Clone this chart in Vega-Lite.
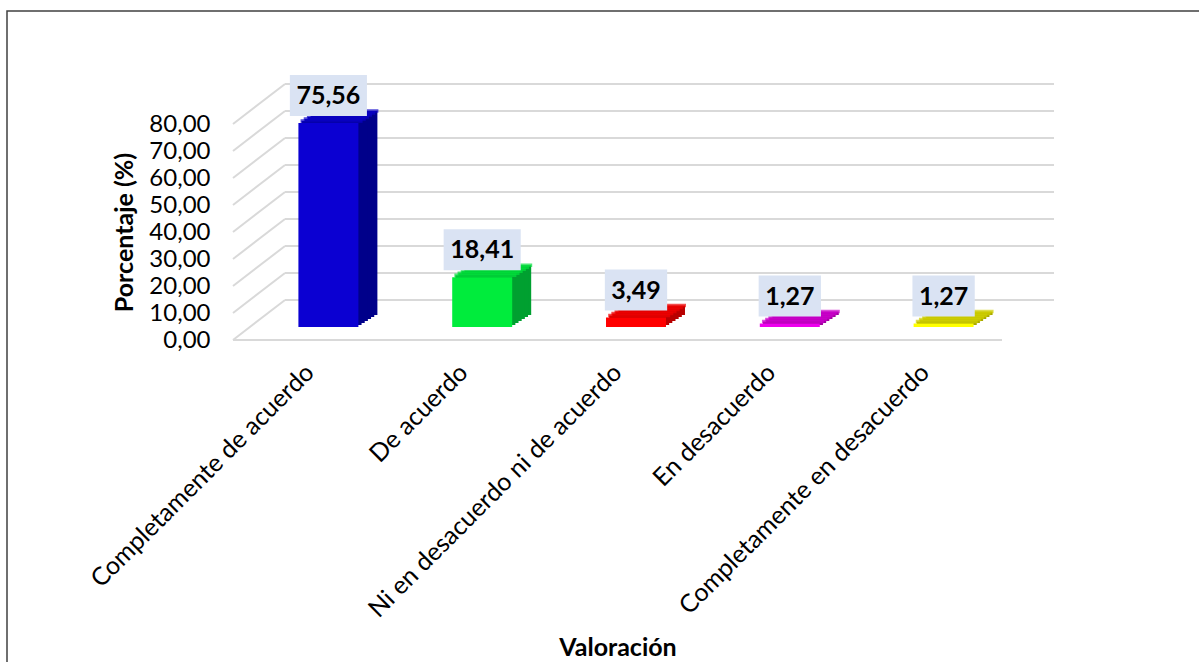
{
  "$schema": "https://vega.github.io/schema/vega-lite/v6.json",
  "width": 1195,
  "height": 655,
  "autosize": {"type": "none"},
  "padding": {"left": 7, "top": 11, "right": 0, "bottom": 0},
  "background": "white",
  "config": {
    "locale": {"number": {"decimal": ",", "thousands": ".", "grouping": [3], "currency": ["", " €"]}},
    "view": {"stroke": "#404040", "strokeWidth": 1.5},
    "font": "Lato"
  },
  "datasets": {
    "valoracion": [
      {"Valoracion": "Completamente de acuerdo", "Porcentaje": 75.56},
      {"Valoracion": "De acuerdo", "Porcentaje": 18.41},
      {"Valoracion": "Ni en desacuerdo ni de acuerdo", "Porcentaje": 3.49},
      {"Valoracion": "En desacuerdo", "Porcentaje": 1.27},
      {"Valoracion": "Completamente en desacuerdo", "Porcentaje": 1.27}
    ],
    "niveles": [
      {"nivel": 0}, {"nivel": 10}, {"nivel": 20}, {"nivel": 30}, {"nivel": 40},
      {"nivel": 50}, {"nivel": 60}, {"nivel": 70}, {"nivel": 80}
    ]
  },
  "resolve": {"axis": {"x": "independent", "y": "independent"}},
  "layer": [
    {
      "data": {"name": "niveles"},
      "mark": {"type": "rule", "color": "#d9d9d9", "strokeWidth": 2, "xOffset": 52, "x2Offset": 52, "yOffset": -40},
      "encoding": {
        "x": {"datum": "Completamente de acuerdo", "type": "nominal", "bandPosition": 0,
              "scale": {"domain": ["Completamente de acuerdo", "De acuerdo", "Ni en desacuerdo ni de acuerdo", "En desacuerdo", "Completamente en desacuerdo"], "range": [226, 995], "paddingInner": 0, "paddingOuter": 0}, "axis": null},
        "x2": {"datum": "Completamente en desacuerdo", "bandPosition": 1},
        "y": {"field": "nivel", "type": "quantitative", "scale": {"domain": [0, 80], "range": [329, 113], "nice": false}, "axis": null}
      }
    },
    {
      "data": {"name": "niveles"},
      "mark": {"type": "rule", "color": "#d9d9d9", "strokeWidth": 2, "x2Offset": 52, "y2Offset": -40},
      "encoding": {
        "x": {"datum": "Completamente de acuerdo", "type": "nominal", "bandPosition": 0, "axis": null},
        "x2": {"datum": "Completamente de acuerdo", "bandPosition": 0},
        "y": {"field": "nivel", "type": "quantitative", "axis": null},
        "y2": {"field": "nivel"}
      }
    },
    {
      "data": {"name": "niveles"},
      "transform": [{"filter": "datum.nivel == 0"}],
      "mark": {"type": "rule", "color": "#d9d9d9", "strokeWidth": 2},
      "encoding": {
        "x": {"datum": "Completamente de acuerdo", "type": "nominal", "bandPosition": 0, "axis": null},
        "x2": {"datum": "Completamente en desacuerdo", "bandPosition": 1},
        "y": {"field": "nivel", "type": "quantitative", "axis": null}
      }
    },
    {
      "data": {"name": "valoracion"},
      "layer": [
        {"mark": {"type": "bar", "width": {"band": 0.39}, "xOffset": 37.5, "yOffset": -25, "y2Offset": -25}},
        {"mark": {"type": "bar", "width": {"band": 0.39}, "xOffset": 34.33, "yOffset": -23, "y2Offset": -23}},
        {"mark": {"type": "bar", "width": {"band": 0.39}, "xOffset": 31.17, "yOffset": -21, "y2Offset": -21}},
        {"mark": {"type": "bar", "width": {"band": 0.39}, "xOffset": 28, "yOffset": -19, "y2Offset": -19}},
        {"mark": {"type": "bar", "width": {"band": 0.39}, "xOffset": 24.83, "yOffset": -17, "y2Offset": -17}},
        {"mark": {"type": "bar", "width": {"band": 0.39}, "xOffset": 21.67, "yOffset": -15, "y2Offset": -15}}
      ],
      "encoding": {
        "x": {"field": "Valoracion", "type": "nominal", "sort": null, "axis": null},
        "y": {"field": "Porcentaje", "type": "quantitative", "axis": null},
        "fill": {"field": "Valoracion", "type": "nominal", "legend": null,
                 "scale": {"domain": ["Completamente de acuerdo", "De acuerdo", "Ni en desacuerdo ni de acuerdo", "En desacuerdo", "Completamente en desacuerdo"],
                           "range": ["#00008a", "#00a030", "#b80000", "#a000a0", "#a8a800"]}}
      }
    },
    {
      "data": {"name": "valoracion"},
      "layer": [
        {"mark": {"type": "tick", "orient": "horizontal", "size": 60, "thickness": 1.5, "filled": false, "strokeWidth": 2, "xOffset": 37.5, "yOffset": -25}},
        {"mark": {"type": "tick", "orient": "horizontal", "size": 60, "thickness": 1.5, "filled": false, "strokeWidth": 2, "xOffset": 34.33, "yOffset": -23}},
        {"mark": {"type": "tick", "orient": "horizontal", "size": 60, "thickness": 1.5, "filled": false, "strokeWidth": 2, "xOffset": 31.17, "yOffset": -21}},
        {"mark": {"type": "tick", "orient": "horizontal", "size": 60, "thickness": 1.5, "filled": false, "strokeWidth": 2, "xOffset": 28, "yOffset": -19}},
        {"mark": {"type": "tick", "orient": "horizontal", "size": 60, "thickness": 1.5, "filled": false, "strokeWidth": 2, "xOffset": 24.83, "yOffset": -17}},
        {"mark": {"type": "tick", "orient": "horizontal", "size": 60, "thickness": 1.5, "filled": false, "strokeWidth": 2, "xOffset": 21.67, "yOffset": -15}}
      ],
      "encoding": {
        "x": {"field": "Valoracion", "type": "nominal", "sort": null, "axis": null},
        "y": {"field": "Porcentaje", "type": "quantitative", "axis": null},
        "stroke": {"field": "Valoracion", "type": "nominal", "legend": null,
                   "scale": {"domain": ["Completamente de acuerdo", "De acuerdo", "Ni en desacuerdo ni de acuerdo", "En desacuerdo", "Completamente en desacuerdo"],
                             "range": ["#0a00c8", "#00e03a", "#f00000", "#cc00cc", "#d0d000"]}}
      }
    },
    {
      "data": {"name": "valoracion"},
      "mark": {"type": "bar", "width": {"band": 0.39}, "xOffset": 18.5, "yOffset": -13, "y2Offset": -13},
      "encoding": {
        "x": {"field": "Valoracion", "type": "nominal", "sort": null,
              "axis": {"orient": "bottom", "offset": -326, "title": "Valoración", "labelAngle": -45, "labelAlign": "right", "labelBaseline": "middle",
                       "labelPadding": 28, "labelFont": "Lato", "labelFontSize": 25, "labelColor": "#000000", "labelLimit": 1000,
                       "ticks": false, "domain": false, "grid": false,
                       "titleFont": "Lato", "titleFontSize": 25, "titleFontWeight": "bold", "titleColor": "#000000", "titleY": 315, "titleBaseline": "alphabetic"}},
        "y": {"field": "Porcentaje", "type": "quantitative",
              "axis": {"orient": "left", "offset": -226, "values": [0, 10, 20, 30, 40, 50, 60, 70, 80], "format": ".2f",
                       "labelPadding": 23, "labelFont": "Lato", "labelFontSize": 24, "labelColor": "#000000",
                       "ticks": false, "domain": false, "grid": false,
                       "title": "Porcentaje (%)", "titleFont": "Lato", "titleFontSize": 25, "titleFontWeight": "bold", "titleColor": "#000000", "titlePadding": 11}},
        "color": {"field": "Valoracion", "type": "nominal", "legend": null,
                  "scale": {"domain": ["Completamente de acuerdo", "De acuerdo", "Ni en desacuerdo ni de acuerdo", "En desacuerdo", "Completamente en desacuerdo"],
                            "range": ["#0b00d2", "#00ec3c", "#ff0000", "#ee00ee", "#ffff00"]}}
      }
    },
    {
      "data": {"name": "valoracion"},
      "mark": {"type": "point", "filled": true, "opacity": 1, "size": 6724, "color": "#dae3f3", "strokeWidth": 0, "xOffset": 18.5, "yOffset": -40.5},
      "encoding": {
        "x": {"field": "Valoracion", "type": "nominal", "sort": null, "axis": null},
        "y": {"field": "Porcentaje", "type": "quantitative", "axis": null},
        "shape": {"condition": {"test": "datum.Porcentaje >= 10", "value": "M-0.94,-0.5H0.94V0.5H-0.94Z"}, "value": "M-0.76,-0.5H0.76V0.5H-0.76Z"}
      }
    },
    {
      "data": {"name": "valoracion"},
      "mark": {"type": "text", "font": "Lato", "fontWeight": "bold", "fontSize": 25, "color": "#000000", "align": "center", "baseline": "middle", "xOffset": 18.5, "yOffset": -40},
      "encoding": {
        "x": {"field": "Valoracion", "type": "nominal", "sort": null, "axis": null},
        "y": {"field": "Porcentaje", "type": "quantitative", "axis": null},
        "text": {"field": "Porcentaje", "type": "quantitative", "format": ".2f"}
      }
    }
  ]
}
